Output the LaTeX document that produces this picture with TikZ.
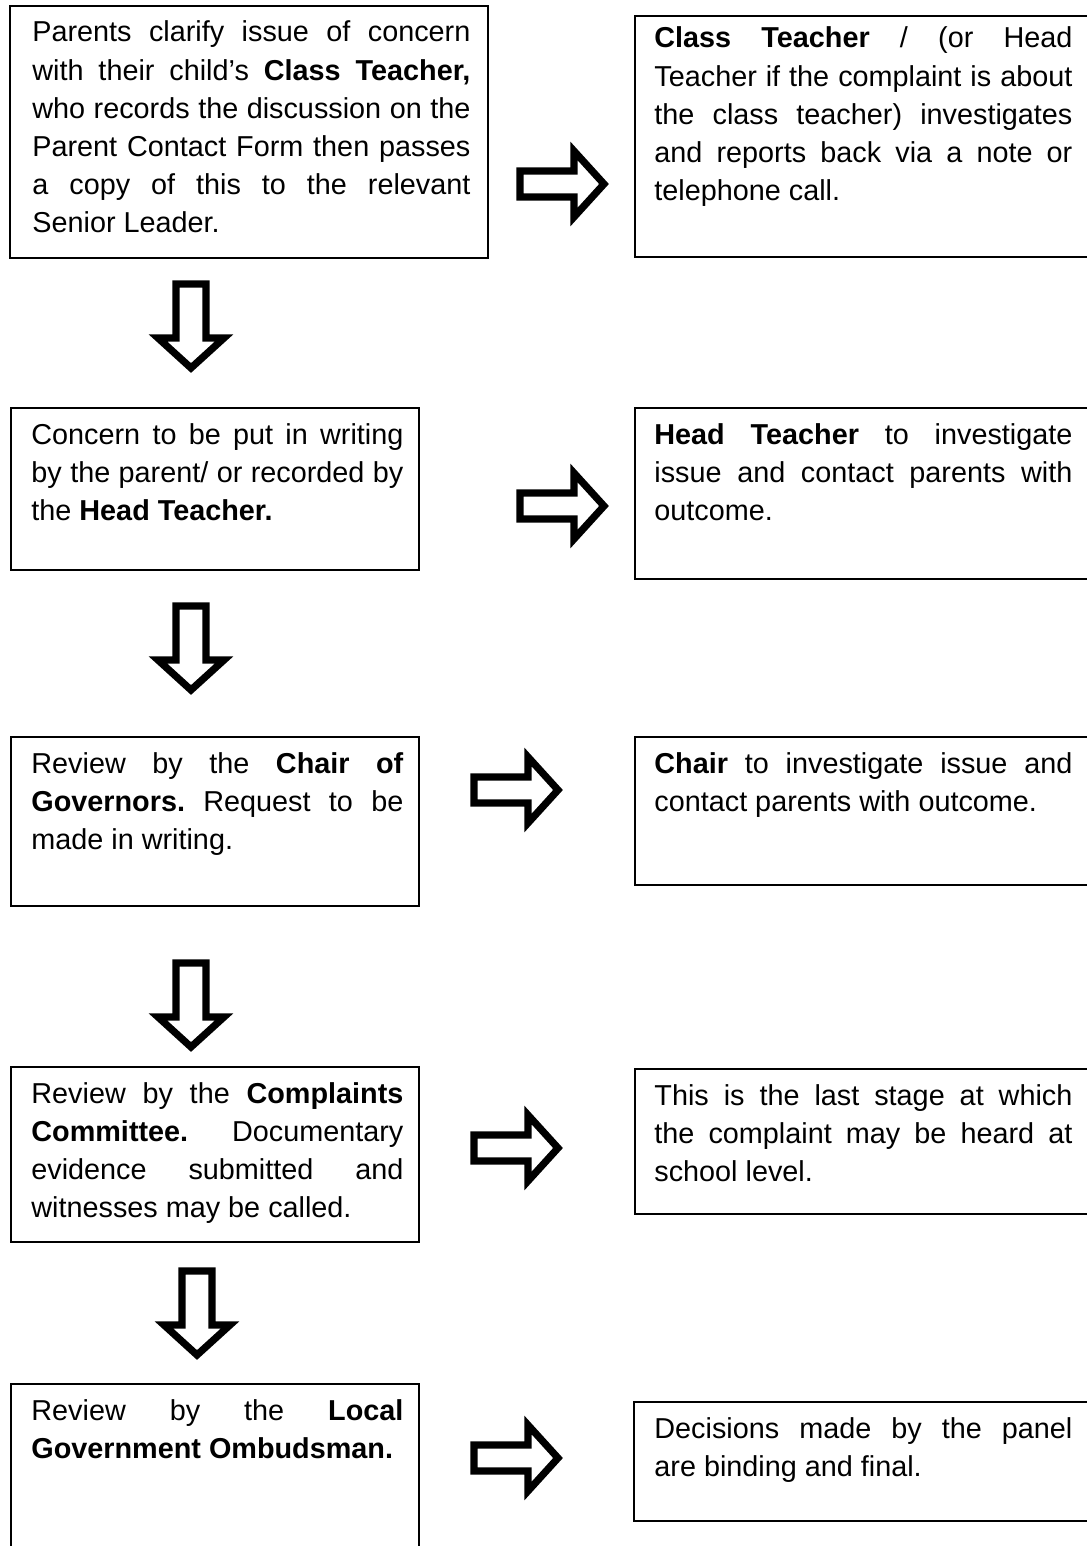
\documentclass[tikz,border=0pt]{standalone}
\usepackage{fontspec}
\setmainfont{Liberation Sans}
\usetikzlibrary{positioning,calc}
\tikzset{stagebox/.style={draw, line width=1pt, rectangle, anchor=north west, inner sep=0pt}}
\tikzset{stagetext/.style={anchor=base west, align=justify, inner sep=0pt, font=\fontsize{14.4}{19.1}\selectfont}}
\tikzset{rarrow/.pic={\draw[line width=3.6pt] (-42,-13) -- (12,-13) -- (12,-33) -- (42,0) -- (12,33) -- (12,13) -- (-42,13) -- cycle;}}
\tikzset{darrow/.pic={\draw[line width=3.6pt] (-15,-42) -- (-15,12) -- (-33,12) -- (0,42) -- (33,12) -- (15,12) -- (15,-42) -- cycle;}}
\hyphenpenalty=10000
\tolerance=10000
\frenchspacing

\begin{document}
\begin{tikzpicture}[x=0.5pt,y=-0.5pt]
\useasboundingbox (0,0) rectangle (1086,1546);

% boxes
\node[stagebox, minimum width=239pt, minimum height=126pt] (b1) at (9,5) {};
\node[stagebox, minimum width=250pt, minimum height=120.5pt] (c1) at (634,15) {};
\node[stagebox, minimum width=204pt, minimum height=81pt] (b2) at (10,407) {};
\node[stagebox, minimum width=250pt, minimum height=85.5pt] (c2) at (634,407) {};
\node[stagebox, minimum width=204pt, minimum height=84.5pt] (b3) at (10,736) {};
\node[stagebox, minimum width=250pt, minimum height=74pt] (c3) at (634,736) {};
\node[stagebox, minimum width=204pt, minimum height=87.5pt] (b4) at (10,1066) {};
\node[stagebox, minimum width=250pt, minimum height=72.5pt] (c4) at (634,1068) {};
\node[stagebox, minimum width=204pt, minimum height=100pt] (b5) at (10,1383) {};
\node[stagebox, minimum width=250pt, minimum height=59.5pt] (c5) at (633,1401) {};

% texts
\node[stagetext, text width=219pt] (t1) at ($(b1.north west)+(23,37)$) {Parents clarify issue of concern\linebreak with their child's \textbf{Class Teacher,}\linebreak who records the discussion on the\linebreak Parent Contact Form then passes\linebreak a copy of this to the relevant\linebreak Senior Leader.};
\node[stagetext, text width=209pt] (u1) at ($(c1.north west)+(20,33)$) {\textbf{Class Teacher} / (or Head\linebreak Teacher if the complaint is about\linebreak the class teacher) investigates\linebreak and reports back via a note or\linebreak telephone call.};
\node[stagetext, text width=186pt] (t2) at ($(b2.north west)+(21,37)$) {Concern to be put in writing\linebreak by the parent/ or recorded by\linebreak the \textbf{Head Teacher.}};
\node[stagetext, text width=209pt] (u2) at ($(c2.north west)+(20,37)$) {\textbf{Head Teacher} to investigate\linebreak issue and contact parents with\linebreak outcome.};
\node[stagetext, text width=186pt] (t3) at ($(b3.north west)+(21,37)$) {Review by the \textbf{Chair of}\linebreak \textbf{Governors.} Request to be\linebreak made in writing.};
\node[stagetext, text width=209pt] (u3) at ($(c3.north west)+(20,37)$) {\textbf{Chair} to investigate issue and\linebreak contact parents with outcome.};
\node[stagetext, text width=186pt] (t4) at ($(b4.north west)+(21,37)$) {Review by the \textbf{Complaints}\linebreak \textbf{Committee.} Documentary\linebreak evidence submitted and\linebreak witnesses may be called.};
\node[stagetext, text width=209pt] (u4) at ($(c4.north west)+(20,37)$) {This is the last stage at which\linebreak the complaint may be heard at\linebreak school level.};
\node[stagetext, text width=186pt] (t5) at ($(b5.north west)+(21,37)$) {Review by the \textbf{Local}\linebreak \textbf{Government Ombudsman.}};
\node[stagetext, text width=209pt] (u5) at ($(c5.north west)+(21,37)$) {Decisions made by the panel\linebreak are binding and final.};

% block arrows
\pic (r1) at (562,184) {rarrow};
\pic (r2) at (562,506) {rarrow};
\pic (r3) at (516,790) {rarrow};
\pic (r4) at (516,1148) {rarrow};
\pic (r5) at (516,1458) {rarrow};

\pic (d1) at (191,326) {darrow};
\pic (d2) at (191,648) {darrow};
\pic (d3) at (191,1005) {darrow};
\pic (d4) at (197,1313) {darrow};
\end{tikzpicture}
\end{document}
